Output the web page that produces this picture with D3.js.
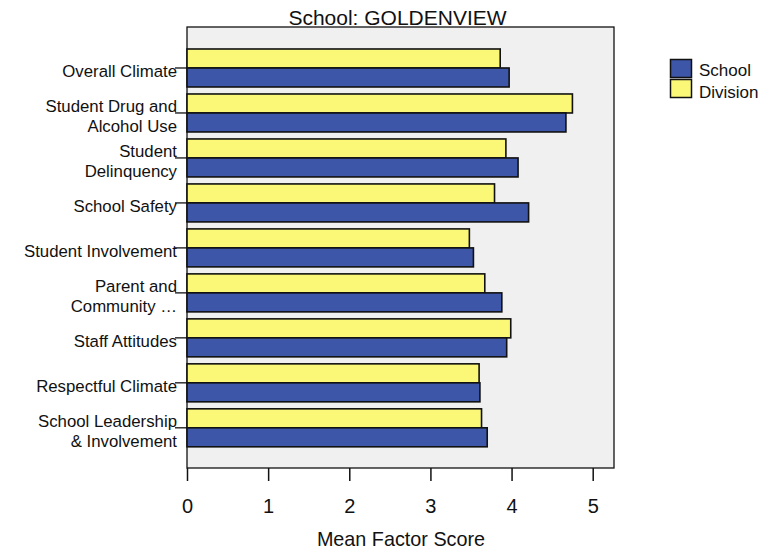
<!DOCTYPE html>
<html>
<head>
<meta charset="utf-8">
<script src="https://cdn.jsdelivr.net/npm/d3@7/dist/d3.min.js"></script>
<style>
  html, body { margin: 0; padding: 0; background: #ffffff; }
  svg { display: block; font-family: "Liberation Sans", Arial, sans-serif; }
</style>
</head>
<body>
<svg id="chart" width="769" height="550"></svg>
<script>
const chartTitle = "School: GOLDENVIEW";
const axisTitle = "Mean Factor Score";
const categories = [
  "Overall Climate",
  "Student Drug and\nAlcohol Use",
  "Student\nDelinquency",
  "School Safety",
  "Student Involvement",
  "Parent and\nCommunity …",
  "Staff Attitudes",
  "Respectful Climate",
  "School Leadership\n& Involvement"
];
const divisionValues = [3.86, 4.75, 3.93, 3.79, 3.48, 3.67, 3.99, 3.60, 3.63];
const schoolValues   = [3.97, 4.67, 4.08, 4.21, 3.53, 3.88, 3.94, 3.61, 3.70];
const seriesNames = ["Division", "School"];
const legendOrder = ["School", "Division"];
const xTicks = [0, 1, 2, 3, 4, 5];

const colors = { School: "#3d56a7", Division: "#fbf877" };

const svg = d3.select("#chart");
const plot = { left: 187, right: 614, top: 27, bottom: 468 };

const x = d3.scaleLinear().domain([0, 5]).range([plot.left, 592.7]);
const p = 7 / 45;
const y0 = d3.scaleBand().domain(categories).range([45.5, 450.3]).paddingInner(p).paddingOuter(p / 2);
const y1 = d3.scaleBand().domain(seriesNames).range([0, y0.bandwidth()]);

// plot background
svg.append("rect")
  .attr("x", plot.left).attr("y", plot.top)
  .attr("width", plot.right - plot.left).attr("height", plot.bottom - plot.top)
  .attr("fill", "#f0f0f0").attr("stroke", "#111").attr("stroke-width", 1.3);

// bars
const rows = categories.map((c, i) => ({ cat: c, Division: divisionValues[i], School: schoolValues[i] }));
const g = svg.append("g");
rows.forEach(r => {
  seriesNames.forEach(s => {
    g.append("rect")
      .attr("x", x(0))
      .attr("y", y0(r.cat) + y1(s))
      .attr("width", x(r[s]) - x(0))
      .attr("height", y1.bandwidth())
      .attr("fill", colors[s])
      .attr("stroke", "#111")
      .attr("stroke-width", 1.6);
  });
});

// category labels and connectors
const labG = svg.append("g");
const lineH = 19.4;
categories.forEach(c => {
  const cy = y0(c) + y0.bandwidth() / 2;
  labG.append("line")
    .attr("x1", 175).attr("x2", plot.left)
    .attr("y1", cy).attr("y2", cy)
    .attr("stroke", "#111").attr("stroke-width", 1.3);
  const lines = c.split("\n");
  const n = lines.length;
  lines.forEach((ln, i) => {
    labG.append("text")
      .attr("x", 177)
      .attr("y", cy + 9 - (n - 1) * lineH / 2 + i * lineH)
      .attr("text-anchor", "end")
      .attr("font-size", 16.8)
      .attr("fill", "#111")
      .text(ln);
  });
});

// x axis
const axis = d3.axisBottom(x).tickValues(xTicks).tickSize(13).tickPadding(18).tickFormat(d3.format("d"));
const ax = svg.append("g").attr("transform", `translate(0,${plot.bottom})`).call(axis);
ax.select(".domain").remove();
ax.selectAll(".tick line").attr("stroke", "#111").attr("stroke-width", 1.5);
ax.selectAll(".tick text").attr("font-size", 20).attr("fill", "#111")
  .attr("font-family", "'Liberation Sans', Arial, sans-serif").attr("dy", "0.71em");

// title
svg.append("text")
  .attr("x", 397.5).attr("y", 24.5)
  .attr("text-anchor", "middle")
  .attr("font-size", 21)
  .attr("fill", "#111")
  .text(chartTitle);

// axis title
svg.append("text")
  .attr("x", 401).attr("y", 546)
  .attr("text-anchor", "middle")
  .attr("font-size", 19.8)
  .attr("fill", "#111")
  .text(axisTitle);

// legend
const leg = svg.append("g");
legendOrder.forEach((s, i) => {
  leg.append("rect")
    .attr("x", 670.5).attr("y", 59.5 + i * 20)
    .attr("width", 21).attr("height", 18)
    .attr("fill", colors[s]).attr("stroke", "#111").attr("stroke-width", 1.5);
  leg.append("text")
    .attr("x", 699).attr("y", 76 + i * 21.5)
    .attr("font-size", 17)
    .attr("fill", "#111")
    .text(s);
});
</script>
</body>
</html>
